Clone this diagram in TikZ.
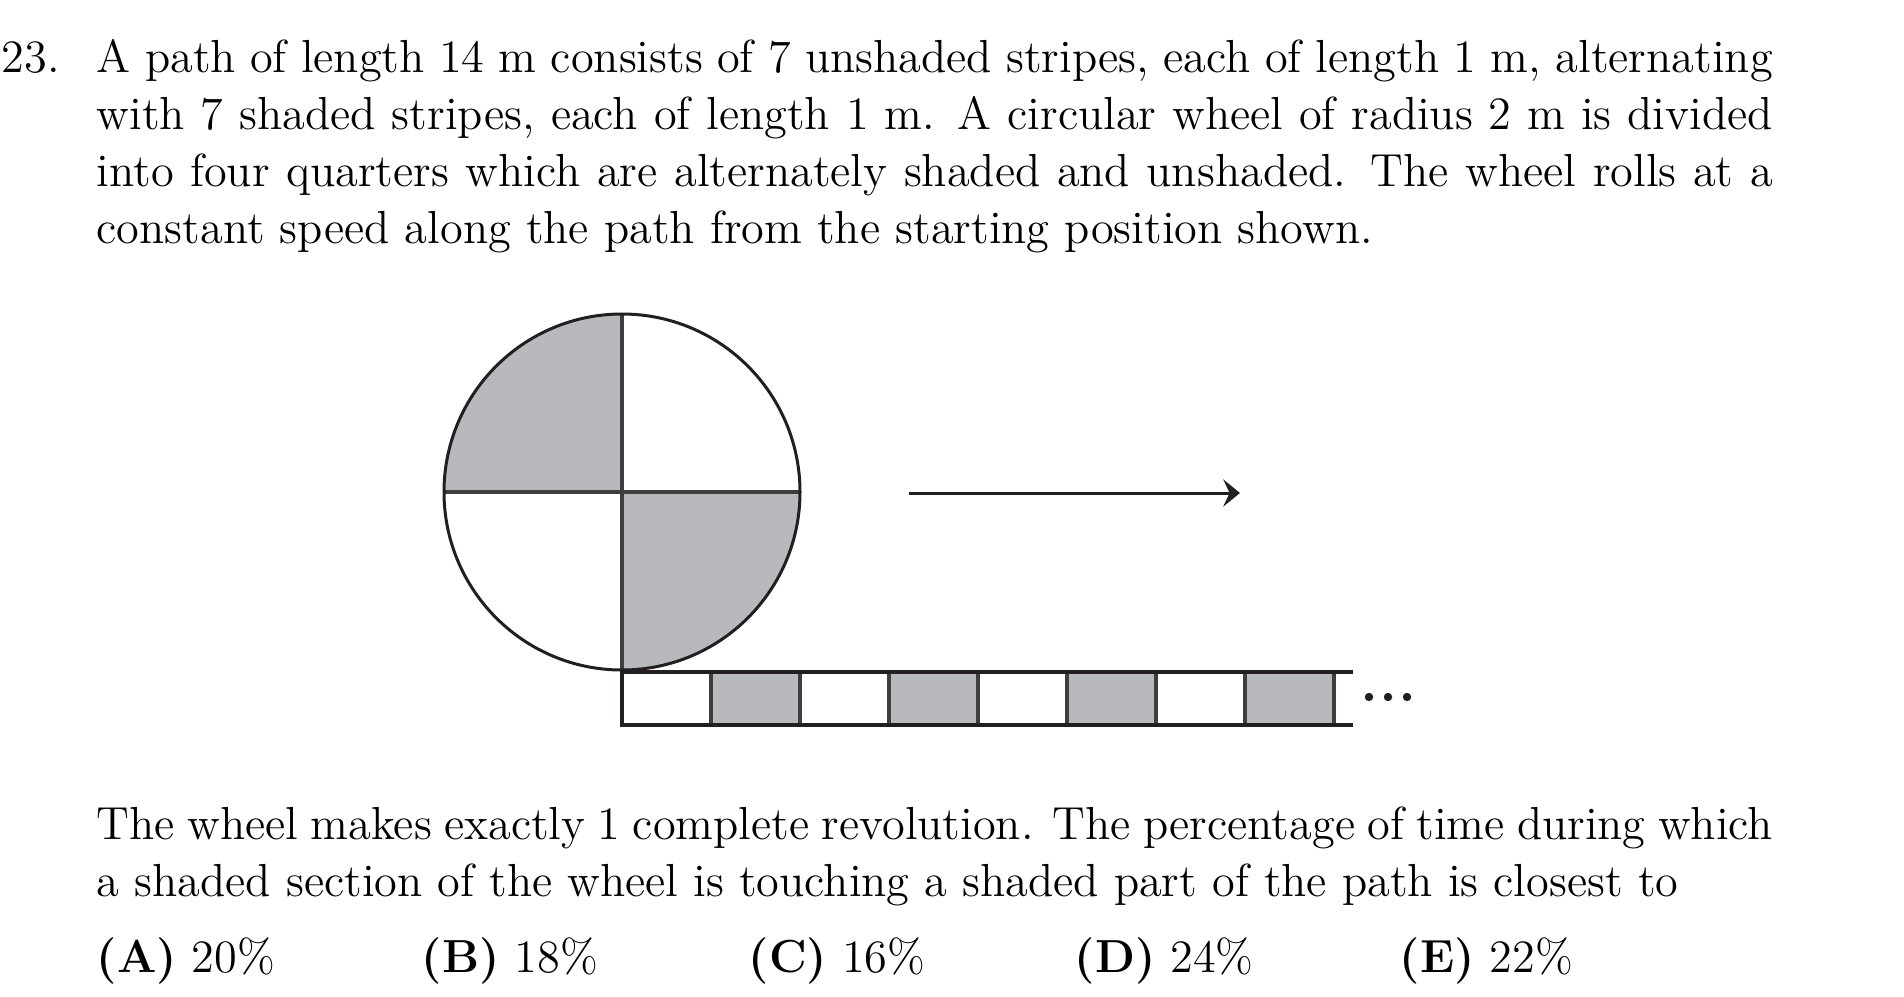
\documentclass[tikz,border=0pt]{standalone}
\usetikzlibrary{arrows.meta,calc}
\definecolor{greyfill}{RGB}{184,185,189}
\definecolor{ink}{RGB}{35,31,32}
\definecolor{edge}{RGB}{62,62,64}
\tikzset{
  txt/.style={anchor=base west, inner sep=0pt},
  para/.style={txt, text width=419pt, align=justify},
  outline/.style={draw=ink, line width=0.75pt},
  divider/.style={draw=edge, line width=0.8pt},
  stripe/.style={fill=greyfill, draw=edge, line width=0.8pt},
  pathline/.style={draw=ink, line width=0.9pt},
  mover/.style={draw=ink, line width=0.75pt, -{Stealth[length=4.2pt, width=6.8pt, inset=1.6pt]}}
}
\begin{document}
\begin{tikzpicture}[x=0.25pt, y=-0.25pt, font=\fontsize{11.59pt}{14.3pt}\selectfont]
\useasboundingbox (0,0) rectangle (1904,996);
\fill[white] (0,0) rectangle (1904,996);

% question text
\node[txt] (num) at (1,72) {23.};
\node[para] (p1) at (96,72) {A path of length 14 m consists of 7 unshaded stripes, each of length 1 m, alternating\linebreak
with 7 shaded stripes, each of length 1 m.  A circular wheel of radius 2 m is divided\linebreak
into four quarters which are alternately shaded and unshaded.  The wheel rolls at a\linebreak
constant speed along the path from the starting position shown.};

% wheel
\coordinate (w) at (622,492);
\fill[greyfill] (w) -- ++(-178,0) arc[start angle=180, end angle=270, radius=178] -- cycle;
\fill[greyfill] (w) -- ++(178,0) arc[start angle=0, end angle=90, radius=178] -- cycle;
\draw[divider] ($(w)+(-178,0)$) -- ($(w)+(178,0)$);
\draw[divider] ($(w)+(0,-178)$) -- ($(w)+(0,178)$);
\draw[outline] (w) circle[radius=178];

% arrow
\coordinate (a1) at (909,493);
\coordinate (a2) at (1240,493);
\draw[mover] (a1) -- (a2);

% path
\foreach \k in {0,1,2,3} {
  \filldraw[stripe] ({711+178*\k},672) rectangle ({800+178*\k},725);
}
\coordinate (pt0) at (622,672);
\coordinate (pt1) at (1353,672);
\coordinate (pb0) at (622,725);
\coordinate (pb1) at (1353,725);
\draw[pathline] (pt1) -- (pt0) -- (pb0) -- (pb1);
\foreach \x in {1369,1388,1407} { \fill[ink] (\x,697) circle[radius=4.2]; }

% follow-up text
\node[para] (p2) at (96,839) {The wheel makes exactly 1 complete revolution. The percentage of time during which\linebreak
a shaded section of the wheel is touching a shaded part of the path is closest to};

% answers
\node[txt] (ansA) at (96,972) {\textbf{(A)} 20\%};
\node[txt] (ansB) at (421,972) {\textbf{(B)} 18\%};
\node[txt] (ansC) at (748,972) {\textbf{(C)} 16\%};
\node[txt] (ansD) at (1074,972) {\textbf{(D)} 24\%};
\node[txt] (ansE) at (1399,972) {\textbf{(E)} 22\%};
\end{tikzpicture}
\end{document}
